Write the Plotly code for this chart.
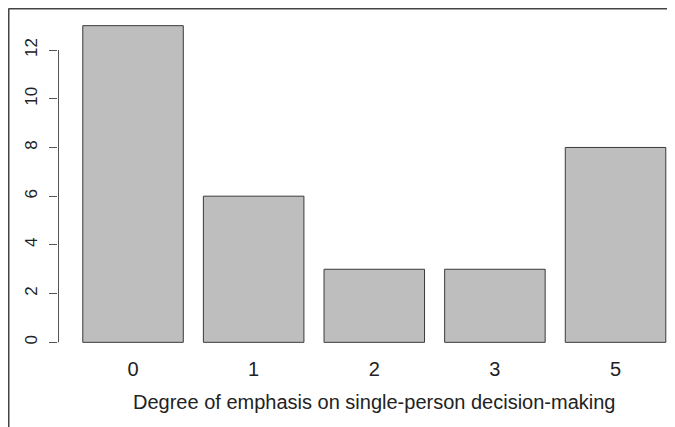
import plotly.graph_objects as go

categories = ["0", "1", "2", "3", "5"]
counts = [13, 6, 3, 3, 8]
y_ticks = [0, 2, 4, 6, 8, 10, 12]
x_title = "Degree of emphasis on single-person decision-making"

# page has an 8px body margin, so the figure is drawn 8px smaller
W, H = 667, 419
ml, mr, mt, mb = 50, 0, 5, 72
pw = W - ml - mr
ph = H - mt - mb

fig = go.Figure()
fig.add_trace(go.Bar(
    x=categories, y=counts,
    marker=dict(color="#BEBEBE", line=dict(color="#3a3a3a", width=1)),
    hoverinfo="x+y",
))

# y axis line spanning only tick range (R style)
ax = 0.5 / pw
fig.add_shape(type="line", xref="paper", yref="y", x0=ax, x1=ax,
              y0=min(y_ticks), y1=max(y_ticks),
              line=dict(color="#555555", width=1))

# image border (left + top)
bx = (0.5 - ml) / pw
by = 1 + (mt - 0.5) / ph
bb = -(H - (mt + ph)) / ph
fig.add_shape(type="line", xref="paper", yref="paper", x0=bx, x1=bx, y0=bb, y1=by,
              line=dict(color="#444444", width=2))
fig.add_shape(type="line", xref="paper", yref="paper", x0=bx, x1=1.0, y0=by, y1=by,
              line=dict(color="#444444", width=2))

# x axis title (centred on R's wider plot region)
fig.add_annotation(text=x_title, xref="paper", yref="paper",
                   x=(366 - ml) / pw, y=-(394 - (mt + ph)) / ph,
                   xanchor="center", yanchor="middle", showarrow=False,
                   font=dict(size=20, color="#222222"))

fig.update_layout(
    width=W, height=H,
    margin=dict(l=ml, r=mr, t=mt, b=mb, pad=0),
    paper_bgcolor="white", plot_bgcolor="white",
    bargap=1/6,
    showlegend=False,
    font=dict(family="Liberation Sans, Arial, sans-serif", color="#222222"),
    xaxis=dict(
        type="category", range=[-0.622, 4.493],
        showline=False, showgrid=False, zeroline=False, ticks="",
        tickfont=dict(size=20), ticklabelstandoff=0,
    ),
    yaxis=dict(
        range=[-0.52, 13.52], tickvals=y_ticks,
        showline=False, showgrid=False, zeroline=False,
        ticks="outside", ticklen=8, tickcolor="#555555", tickwidth=1,
        tickangle=-90, tickfont=dict(size=17), ticklabelstandoff=5,
    ),
)

fig.write_html("out.html")
